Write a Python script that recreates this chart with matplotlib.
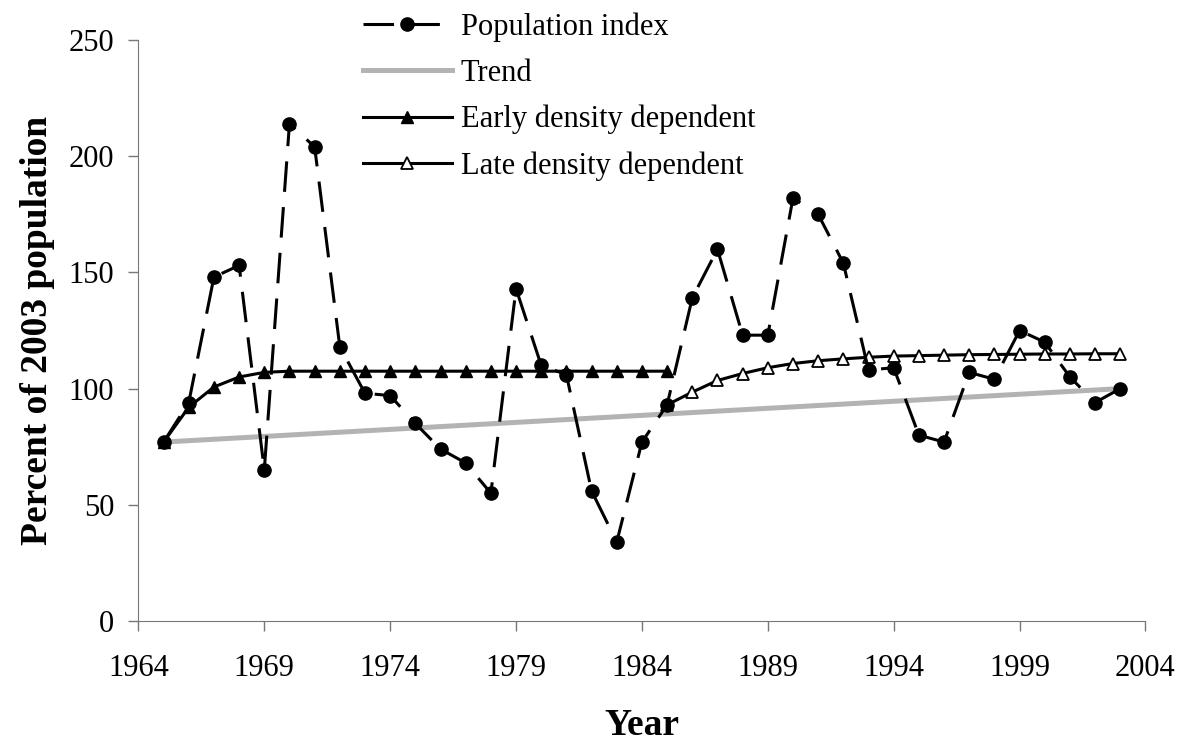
import matplotlib
matplotlib.use("Agg")
import matplotlib.pyplot as plt

plt.rcParams['font.family'] = ['Liberation Serif', 'DejaVu Serif']

years = list(range(1965, 2004))
population = [77, 94, 148, 153, 65, 214, 204, 118, 98, 97,
              85, 74, 68, 55, 143, 110, 106, 56, 34, 77,
              93, 139, 160, 123, 123, 182, 175, 154, 108, 109,
              80, 77, 107, 104, 125, 120, 105, 94, 100]

trend_years = [1965, 2003]
trend = [77, 100]

early_years = list(range(1965, 1986))
early = [77, 92, 100.7, 105, 107, 107.5, 107.5, 107.5, 107.5, 107.5,
         107.5, 107.5, 107.5, 107.5, 107.5, 107.5, 107.5, 107.5, 107.5, 107.5,
         107.5]

late_years = list(range(1985, 2004))
late = [93, 98.5, 103.5, 106.5, 109, 110.8, 112, 112.8, 113.5, 114,
        114.2, 114.4, 114.6, 114.7, 114.8, 114.9, 114.9, 115, 115]

fig = plt.figure(figsize=(11.86, 7.45), dpi=100)
ax = fig.add_axes([0.1167, 0.1664, 0.8491, 0.7799])

ax.plot(years, population, color='black', lw=2.2, dashes=(10, 5),
        marker='o', markersize=9.5, label='Population index', zorder=4)
ax.plot(trend_years, trend, color='#b3b3b3', lw=3.6, label='Trend', zorder=2)
ax.plot(early_years, early, color='black', lw=2.2, marker='^', markersize=8,
        label='Early density dependent', zorder=3)
ax.plot(late_years, late, color='black', lw=2.2, marker='^', markersize=8,
        markerfacecolor='white', markeredgewidth=1.3,
        label='Late density dependent', zorder=3)

ax.set_xlim(1964, 2004)
ax.set_ylim(0, 250)
ax.set_xticks(range(1964, 2005, 5))
ax.set_yticks(range(0, 251, 50))
ax.tick_params(labelsize=22, direction='out', length=7.5, width=1, color='#777777')
ax.tick_params(axis='x', pad=16)
ax.tick_params(axis='y', pad=10)
for side in ['top', 'right']:
    ax.spines[side].set_visible(False)
for side in ['left', 'bottom']:
    ax.spines[side].set_color('#777777')

ax.set_xlabel('Year', fontsize=27, fontweight='bold', labelpad=18)
ax.set_ylabel('Percent of 2003 population', fontsize=27, fontweight='bold', labelpad=10)

fig.legend(loc='upper left', bbox_to_anchor=(0.306, 0.983), frameon=False,
           fontsize=22, handlelength=2.9, handletextpad=0.3, labelspacing=0.55,
           borderpad=0, borderaxespad=0)

fig.savefig('out.png', dpi=100)
